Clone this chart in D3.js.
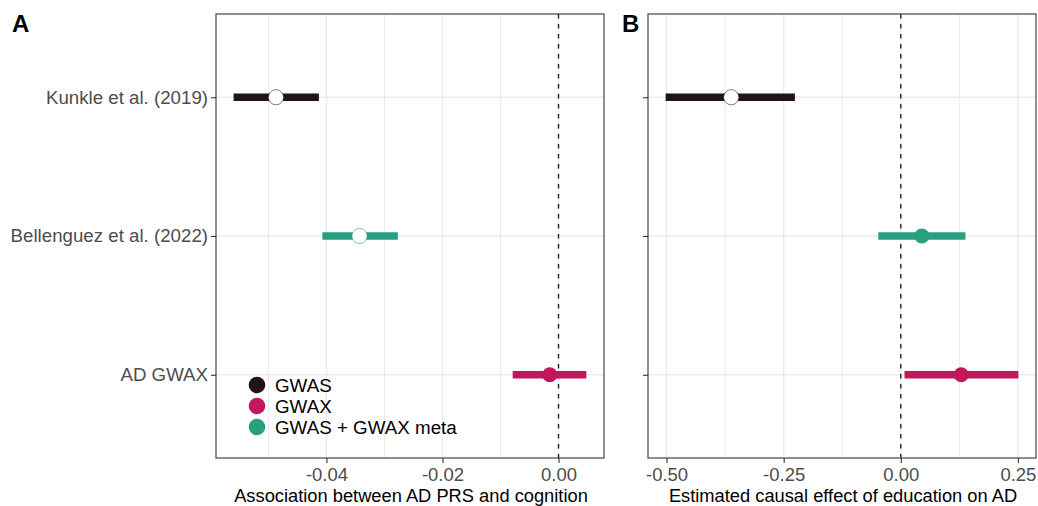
<!DOCTYPE html>
<html>
<head>
<meta charset="utf-8">
<script src="https://cdn.jsdelivr.net/npm/d3@7"></script>
<style>
  html, body { margin: 0; padding: 0; background: #fff; }
  svg { display: block; font-family: "Liberation Sans", Arial, sans-serif; }
</style>
</head>
<body>
<svg id="chart" width="1038" height="506"></svg>
<script>
// ---- data ----
const categories = ["Kunkle et al. (2019)", "Bellenguez et al. (2022)", "AD GWAX"];
const rowSeries = ["GWAS", "GWAS + GWAX meta", "GWAX"];
const legendSeries = ["GWAS", "GWAX", "GWAS + GWAX meta"];

const prsEst  = [-0.0487, -0.0343, -0.0015];
const prsLow  = [-0.0560, -0.0407, -0.0079];
const prsHigh = [-0.0413, -0.0277,  0.0048];
const prsHollow = [true, true, false];

const mrEst  = [-0.362, 0.045, 0.129];
const mrLow  = [-0.502, -0.048, 0.008];
const mrHigh = [-0.226, 0.138, 0.251];
const mrHollow = [true, false, false];

const prsTicks = [-0.04, -0.02, 0.00];
const mrTicks  = [-0.50, -0.25, 0.00, 0.25];

const prsTitle = "Association between AD PRS and cognition";
const mrTitle  = "Estimated causal effect of education on AD";

// ---- styles ----
const colors = { "GWAS": "#231315", "GWAX": "#C4165A", "GWAS + GWAX meta": "#27A07F" };
const svg = d3.select("#chart");
const pTop = 14, pBottom = 458;
const fmt = d => d3.format(".2f")(d).replace("\u2212", "-");

const y = d3.scalePoint().domain(categories).range([pTop, pBottom]).padding(0.6);

function panel(opts) {
  const { left, right, est, low, high, hollow, ticks, title, letter, letterX, showY } = opts;
  const lo = d3.min(low), hi = d3.max(high), pad = (hi - lo) * 0.05;
  const x = d3.scaleLinear().domain([lo - pad, hi + pad]).range([left, right]);
  const g = svg.append("g");

  // minor grid
  const minor = [];
  const step = ticks[1] - ticks[0];
  for (let i = 0; i < ticks.length + 1; i++) {
    const m = ticks[0] - step / 2 + i * step;
    if (m > x.domain()[0] && m < x.domain()[1]) minor.push(m);
  }
  g.selectAll(".minor").data(minor).join("line")
    .attr("x1", d => x(d)).attr("x2", d => x(d)).attr("y1", pTop).attr("y2", pBottom)
    .attr("stroke", "#EBEBEB").attr("stroke-width", 1);
  // major grid
  g.selectAll(".majorx").data(ticks).join("line")
    .attr("x1", d => x(d)).attr("x2", d => x(d)).attr("y1", pTop).attr("y2", pBottom)
    .attr("stroke", "#EBEBEB").attr("stroke-width", 1.4);
  g.selectAll(".majory").data(categories).join("line")
    .attr("x1", left).attr("x2", right).attr("y1", d => y(d)).attr("y2", d => y(d))
    .attr("stroke", "#EBEBEB").attr("stroke-width", 1.4);

  // zero line
  g.append("line").attr("x1", x(0)).attr("x2", x(0)).attr("y1", pTop).attr("y2", pBottom)
    .attr("stroke", "#222").attr("stroke-width", 1.4).attr("stroke-dasharray", "4.5,5.5");

  // error bars
  g.selectAll(".bar").data(categories).join("line")
    .attr("x1", (d, i) => x(low[i])).attr("x2", (d, i) => x(high[i]))
    .attr("y1", d => y(d)).attr("y2", d => y(d))
    .attr("stroke", (d, i) => colors[rowSeries[i]]).attr("stroke-width", 7.3);
  // points
  g.selectAll(".pt").data(categories).join("circle")
    .attr("cx", (d, i) => x(est[i])).attr("cy", d => y(d)).attr("r", 7.6)
    .attr("fill", (d, i) => hollow[i] ? "#fff" : colors[rowSeries[i]])
    .attr("stroke", (d, i) => hollow[i] ? colors[rowSeries[i]] : "none")
    .attr("stroke-opacity", 0.55).attr("stroke-width", 1);

  // border
  g.append("rect").attr("x", left).attr("y", pTop).attr("width", right - left).attr("height", pBottom - pTop)
    .attr("fill", "none").attr("stroke", "#333").attr("stroke-width", 1.1);

  // x axis
  const xa = g.append("g").attr("transform", `translate(0,${pBottom})`)
    .call(d3.axisBottom(x).tickValues(ticks).tickFormat(fmt).tickSize(5).tickPadding(5));
  xa.select(".domain").remove();
  xa.selectAll("line").attr("stroke", "#333").attr("stroke-width", 1.1);
  xa.selectAll("text").attr("fill", "#4D4D4D").attr("font-size", 18.5)
    .attr("font-family", "Liberation Sans, Arial, sans-serif");

  // y axis
  const ya = g.append("g").attr("transform", `translate(${left},0)`)
    .call(d3.axisLeft(y).tickSize(5).tickPadding(3).tickFormat(d => showY ? d : ""));
  ya.select(".domain").remove();
  ya.selectAll("line").attr("stroke", "#333").attr("stroke-width", 1.1);
  ya.selectAll("text").attr("fill", "#4D4D4D").attr("font-size", 18.7)
    .attr("font-family", "Liberation Sans, Arial, sans-serif");

  // title
  g.append("text").attr("x", (left + right) / 2 + 1).attr("y", 502).attr("text-anchor", "middle")
    .attr("font-size", 18.3).attr("fill", "#000").text(title);
  // panel letter
  g.append("text").attr("x", letterX).attr("y", 32).attr("font-size", 24).attr("font-weight", "bold")
    .attr("fill", "#000").text(letter);
  return x;
}

panel({ left: 216, right: 604, est: prsEst, low: prsLow, high: prsHigh, hollow: prsHollow,
  ticks: prsTicks, title: prsTitle, letter: "A", letterX: 12, showY: true });
panel({ left: 648, right: 1036, est: mrEst, low: mrLow, high: mrHigh, hollow: mrHollow,
  ticks: mrTicks, title: mrTitle, letter: "B", letterX: 622, showY: false });

// legend
const lg = svg.append("g").attr("transform", "translate(257,385)");
const ly = d3.scalePoint().domain(legendSeries).range([0, 42]);
lg.selectAll("circle").data(legendSeries).join("circle")
  .attr("cx", 0).attr("cy", d => ly(d)).attr("r", 8.3).attr("fill", d => colors[d]);
lg.selectAll("text").data(legendSeries).join("text")
  .attr("x", 18).attr("y", d => ly(d) + 6.7).attr("font-size", 18.8).attr("fill", "#000").text(d => d);
</script>
</body>
</html>
